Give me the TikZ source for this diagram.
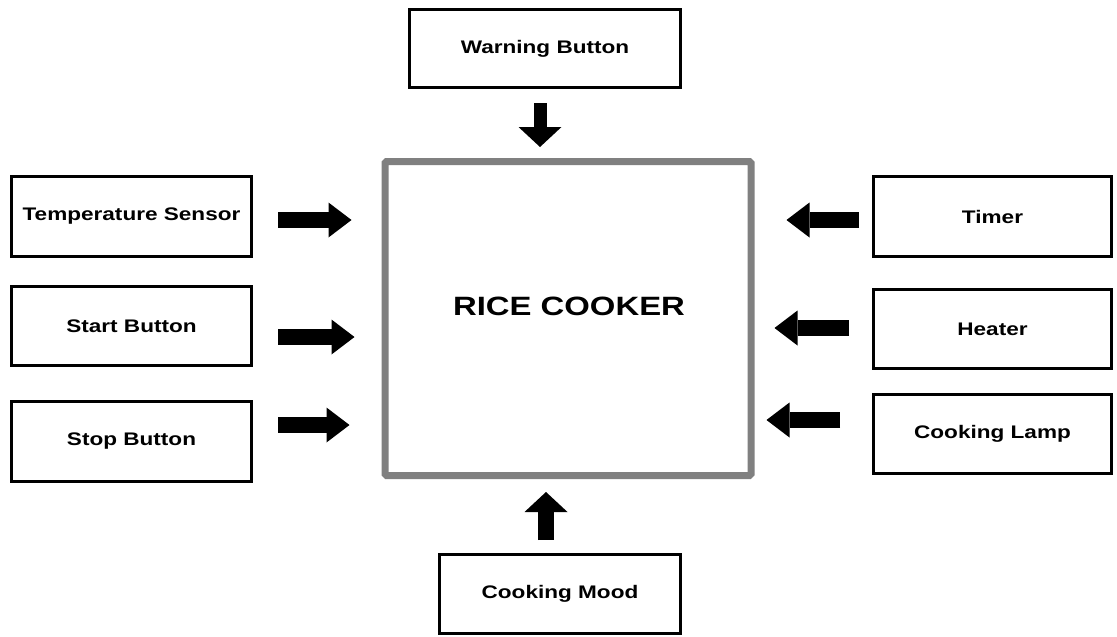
\documentclass[tikz,border=0pt]{standalone}
\usepackage{fontspec}
\setmainfont{Liberation Sans}[FakeStretch=1.24]
\usetikzlibrary{arrows.meta,calc}
\definecolor{framegray}{HTML}{808080}
\begin{document}
\begin{tikzpicture}[x=1pt,y=-1pt,
  unitbox/.style={draw=black, line width=3pt, fill=white, inner sep=0pt,
    font=\fontsize{18.2}{22}\selectfont\bfseries},
  mainbox/.style={draw=framegray, line width=7pt, rounded corners=1.5pt, inner sep=0pt},
  hblock/.style={line width=16pt, -{Triangle[length=23pt,width=35pt,line width=0pt]}},
  dblock/.style={line width=13pt, -{Triangle[length=20pt,width=43pt,line width=0pt]}},
  ublock/.style={line width=16pt, -{Triangle[length=20pt,width=43pt,line width=0pt]}}]
\useasboundingbox (0,0) rectangle (1117,637);

% central unit
\node[mainbox, minimum width=366pt, minimum height=314pt] (cooker) at (568,318.5) {};
\node[font=\fontsize{26.5}{30}\selectfont\bfseries, inner sep=0pt] (title) at (569,306.5) {RICE COOKER};

% surrounding units
\node[unitbox, minimum width=271pt, minimum height=78pt] (warn) at (545,48.5) {Warning Button};
\node[unitbox, minimum width=240pt, minimum height=80pt] (temp) at (131.5,216.5) {Temperature Sensor};
\node[unitbox, minimum width=240pt, minimum height=79pt] (start) at (131.5,326) {Start Button};
\node[unitbox, minimum width=240pt, minimum height=80pt] (stop) at (131.5,441.5) {Stop Button};
\node[unitbox, minimum width=238pt, minimum height=80pt] (timer) at (992.5,216.5) {Timer};
\node[unitbox, minimum width=238pt, minimum height=79pt] (heater) at (992.5,329) {Heater};
\node[unitbox, minimum width=238pt, minimum height=79pt] (lamp) at (992.5,434) {Cooking Lamp};
\node[unitbox, minimum width=241pt, minimum height=79pt] (mood) at (560,594) {Cooking Mood};

% inputs from the left
\draw[hblock, shorten >=30pt] ($(temp.east)+(25,3.5)$) -- ($(temp.east -| cooker.west)+(0,3.5)$);
\draw[hblock, shorten >=27pt] ($(start.east)+(25,11)$) -- ($(start.east -| cooker.west)+(0,11)$);
\draw[hblock, shorten >=32pt] ($(stop.east)+(25,-16.5)$) -- ($(stop.east -| cooker.west)+(0,-16.5)$);

% inputs from the right
\draw[hblock, shorten >=32pt] ($(timer.west)+(-13,3.5)$) -- ($(timer.west -| cooker.east)+(0,3.5)$);
\draw[hblock, shorten >=20pt] ($(heater.west)+(-23,-1)$) -- ($(heater.west -| cooker.east)+(0,-1)$);
\draw[hblock, shorten >=12pt] ($(lamp.west)+(-32,-14)$) -- ($(lamp.west -| cooker.east)+(0,-14)$);

% inputs from top and bottom
\draw[dblock, shorten >=11pt] ($(warn.south)+(-5,14)$) -- ($(cooker.north -| warn.south)+(-5,0)$);
\draw[ublock, shorten >=13pt] ($(mood.north)+(-14,-13)$) -- ($(cooker.south -| mood.north)+(-14,0)$);
\end{tikzpicture}
\end{document}
